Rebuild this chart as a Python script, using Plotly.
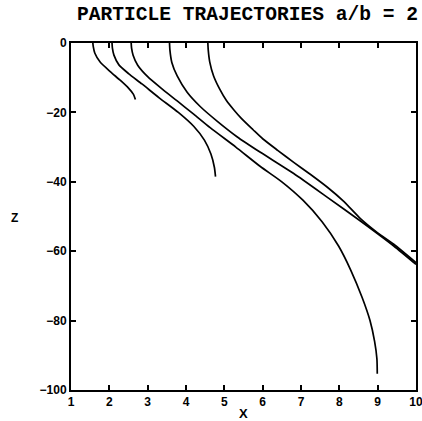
import plotly.graph_objects as go

# Trajectory data (x, z)
c1_x = [1.57, 1.58, 1.62, 1.76, 2.03, 2.29, 2.50, 2.63, 2.68]
c1_z = [0, -1.0, -2.9, -5.5, -8.3, -10.8, -13.0, -14.8, -16.3]

c2_x = [2.07, 2.08, 2.12, 2.25, 2.50, 2.85, 3.30, 3.80, 4.20, 4.48, 4.65, 4.74, 4.77]
c2_z = [0, -1.5, -3.5, -6.3, -8.8, -11.8, -15.8, -20.0, -24.0, -28.0, -32.0, -35.8, -38.5]

c3_x = [2.57, 2.58, 2.62, 2.74, 3.00, 3.35, 3.77, 4.20, 4.63, 5.30, 5.94, 6.50, 7.05,
        7.55, 7.98, 8.30, 8.60, 8.80, 8.92, 8.98, 8.99]
c3_z = [0, -1.5, -3.5, -6.4, -9.7, -13.0, -16.7, -20.5, -24.4, -30.0, -35.6, -40.0, -45.3,
        -51.5, -58.5, -65.5, -73.5, -80.0, -86.0, -91.0, -95.3]

c4_x = [3.57, 3.58, 3.63, 3.77, 4.03, 4.37, 4.81, 5.33, 5.94, 6.81, 7.68, 8.55, 9.42, 10.0]
c4_z = [0, -2.0, -5.6, -9.5, -14.2, -18.3, -22.5, -27.0, -31.5, -37.6, -44.4, -51.3, -58.5, -63.8]

c5_x = [4.57, 4.58, 4.62, 4.72, 4.88, 5.05, 5.25, 5.45, 5.75, 6.00, 6.40, 6.81, 7.25,
        7.68, 8.10, 8.55, 9.00, 9.42, 10.0]
c5_z = [0, -2.0, -5.5, -9.5, -13.3, -16.5, -19.3, -21.8, -25.0, -27.6, -31.0, -34.4, -37.9,
        -41.5, -45.5, -50.6, -54.7, -58.0, -63.3]

x_ticks = [1, 2, 3, 4, 5, 6, 7, 8, 9, 10]
z_ticks = [0, -20, -40, -60, -80, -100]
z_tick_labels = ["0", "−20", "−40", "−60", "−80", "−100"]

curves = [(c1_x, c1_z), (c2_x, c2_z), (c3_x, c3_z), (c4_x, c4_z), (c5_x, c5_z)]

fig = go.Figure()
for cx, cz in curves:
    fig.add_trace(go.Scatter(x=cx, y=cz, mode="lines",
                             line=dict(color="black", width=1.7, shape="spline", smoothing=0.6),
                             showlegend=False, hoverinfo="skip"))

tickfont = dict(family="Liberation Sans, Arial, sans-serif", size=12, color="black", weight="bold")

L, R, T, B = 71, 6, 43, 31
W, H = 422, 421
plot_w = W - L - R
plot_h = H - T - B

fig.update_layout(
    width=W, height=H,
    margin=dict(l=L, r=R, t=T, b=B, autoexpand=False),
    paper_bgcolor="white", plot_bgcolor="white",
    title=dict(text="PARTICLE TRAJECTORIES a/b = 2",
               font=dict(family="Liberation Mono, Courier New, monospace", size=19.6,
                         color="black", weight="bold"),
               x=247.5 / W, xanchor="center", xref="container",
               y=0.969, yanchor="middle", yref="container"),
    xaxis=dict(range=[1, 10], tickvals=x_ticks, ticktext=[str(v) for v in x_ticks],
               ticks="inside", ticklen=5, tickwidth=1.5, tickcolor="black",
               showline=True, linecolor="black", linewidth=2, mirror="ticks",
               showgrid=False, zeroline=False, tickfont=tickfont, automargin=False,
               ticklabeloverflow="allow"),
    yaxis=dict(range=[-100, 0], tickvals=z_ticks, ticktext=z_tick_labels,
               ticks="inside", ticklen=5, tickwidth=1.5, tickcolor="black",
               showline=True, linecolor="black", linewidth=2, mirror="ticks",
               showgrid=False, zeroline=False, tickfont=tickfont, automargin=False,
               ticklabeloverflow="allow"),
    annotations=[
        dict(text="Z", x=(14 - L) / plot_w, y=(H - B - 218) / plot_h,
             xref="paper", yref="paper", showarrow=False, xanchor="center", yanchor="middle",
             font=dict(family="Liberation Sans, Arial, sans-serif", size=12, color="black", weight="bold")),
        dict(text="X", x=(243 - L) / plot_w, y=(H - B - 413) / plot_h,
             xref="paper", yref="paper", showarrow=False, xanchor="center", yanchor="middle",
             font=dict(family="Liberation Sans, Arial, sans-serif", size=13, color="black", weight="bold")),
    ],
)

fig.write_html("out.html", config={"displayModeBar": False},
               post_script="document.body.style.margin='0';document.body.style.overflow='hidden';")
